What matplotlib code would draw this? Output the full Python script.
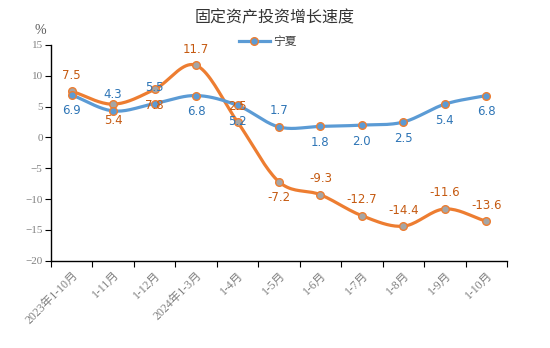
import numpy as np
import matplotlib
matplotlib.use("Agg")
import matplotlib.pyplot as plt
from matplotlib.lines import Line2D

categories = ["2023年1-10月", "1-11月", "1-12月", "2024年1-3月", "1-4月", "1-5月",
              "1-6月", "1-7月", "1-8月", "1-9月", "1-10月"]
ningxia = [6.9, 4.3, 5.5, 6.8, 5.2, 1.7, 1.8, 2.0, 2.5, 5.4, 6.8]
other = [7.5, 5.4, 7.8, 11.7, 2.5, -7.2, -9.3, -12.7, -14.4, -11.6, -13.6]
ningxia_pos = ["b", "a", "a", "b", "b", "a", "b", "b", "b", "b", "b"]
other_pos = ["a", "b", "b", "a", "a", "b", "a", "a", "a", "a", "a"]
yticks = [-20, -15, -10, -5, 0, 5, 10, 15]

BLUE = "#5B9BD5"
ORANGE = "#ED7D31"
BLUE_T = "#2E75B6"
ORANGE_T = "#C55A11"
GRAY = "#A5A5A5"

def smooth(xs, ys, n=20):
    xs = np.asarray(xs, float); ys = np.asarray(ys, float)
    px = np.concatenate([[2*xs[0]-xs[1]], xs, [2*xs[-1]-xs[-2]]])
    py = np.concatenate([[2*ys[0]-ys[1]], ys, [2*ys[-1]-ys[-2]]])
    ox, oy = [], []
    t = np.linspace(0, 1, n, endpoint=False)
    for i in range(1, len(px)-2):
        for P, out in ((px, ox), (py, oy)):
            p0, p1, p2, p3 = P[i-1], P[i], P[i+1], P[i+2]
            out.extend(0.5*((2*p1) + (-p0+p2)*t + (2*p0-5*p1+4*p2-p3)*t**2 + (-p0+3*p1-3*p2+p3)*t**3))
    ox.append(xs[-1]); oy.append(ys[-1])
    return np.array(ox), np.array(oy)

fig = plt.figure(figsize=(5.5, 3.48), dpi=100)
ax = fig.add_axes([51/550, 1-260.7/348, (507-51)/550, (260.7-45)/348])

x = np.arange(len(categories))
for vals, col, face, edge, pos, tcol in ((other, ORANGE, GRAY, ORANGE, other_pos, ORANGE_T),
                                          (ningxia, BLUE, BLUE, ORANGE, ningxia_pos, BLUE_T)):
    sx, sy = smooth(x, vals)
    ax.plot(sx, sy, color=col, lw=2.3, solid_capstyle="round", zorder=2)
    ax.plot(x, vals, "o", ms=5.5, mfc=face, mec=edge, mew=1.0, zorder=3)
    for xi, v, p in zip(x, vals, pos):
        ax.annotate(f"{v:.1f}", (xi, v), xytext=(0, 11.5 if p == "a" else -11.5),
                    textcoords="offset points", ha="center", va="center",
                    fontsize=8.5, color=tcol, family="DejaVu Sans", zorder=4)

ax.set_xlim(-0.5, len(categories)-0.5)
ax.set_ylim(-20, 15)
ax.set_yticks(yticks)
ax.set_yticklabels([f"{t}".replace("-", "\u2212") for t in yticks],
                   family=["Liberation Serif", "Noto Sans CJK SC"], fontsize=8, color="#808080")
ax.set_xticks(np.arange(len(categories)+1) - 0.5)
ax.set_xticklabels([])
ax.set_xticks(x, minor=True)
ax.set_xticklabels(categories, minor=True, rotation=45, ha="right", rotation_mode="anchor",
                   family=["Liberation Serif", "Noto Sans CJK SC"], fontsize=8.5, color="#808080")
ax.tick_params(axis="x", which="minor", length=0, pad=6)
ax.tick_params(axis="x", which="major", length=4, direction="out", color="black")
ax.tick_params(axis="y", length=4, direction="out", color="black", pad=2)
for s in ("top", "right"):
    ax.spines[s].set_visible(False)
for s in ("left", "bottom"):
    ax.spines[s].set_color("black")
    ax.spines[s].set_linewidth(1.0)

fig.text(275/550, 1-18/348, "固定资产投资增长速度", ha="center", va="center",
         fontsize=11.5, color="#333333", family=["Noto Sans CJK SC"])
fig.text(40/550, 1-30/348, "%", ha="center", va="center", fontsize=10, color="#595959",
         family=["Liberation Serif"])

handle = Line2D([], [], color=BLUE, lw=2.3, marker="o", ms=5.5, mfc=BLUE, mec=ORANGE, mew=1.0)
fig.legend([handle], ["宁夏"], loc="center", bbox_to_anchor=(268/550, 1-42/348), frameon=False,
           prop={"family": ["Noto Sans CJK SC"], "size": 8.5}, handlelength=2.6, handletextpad=0.3,
           labelcolor="#404040")

fig.savefig("out.png", dpi=100)
